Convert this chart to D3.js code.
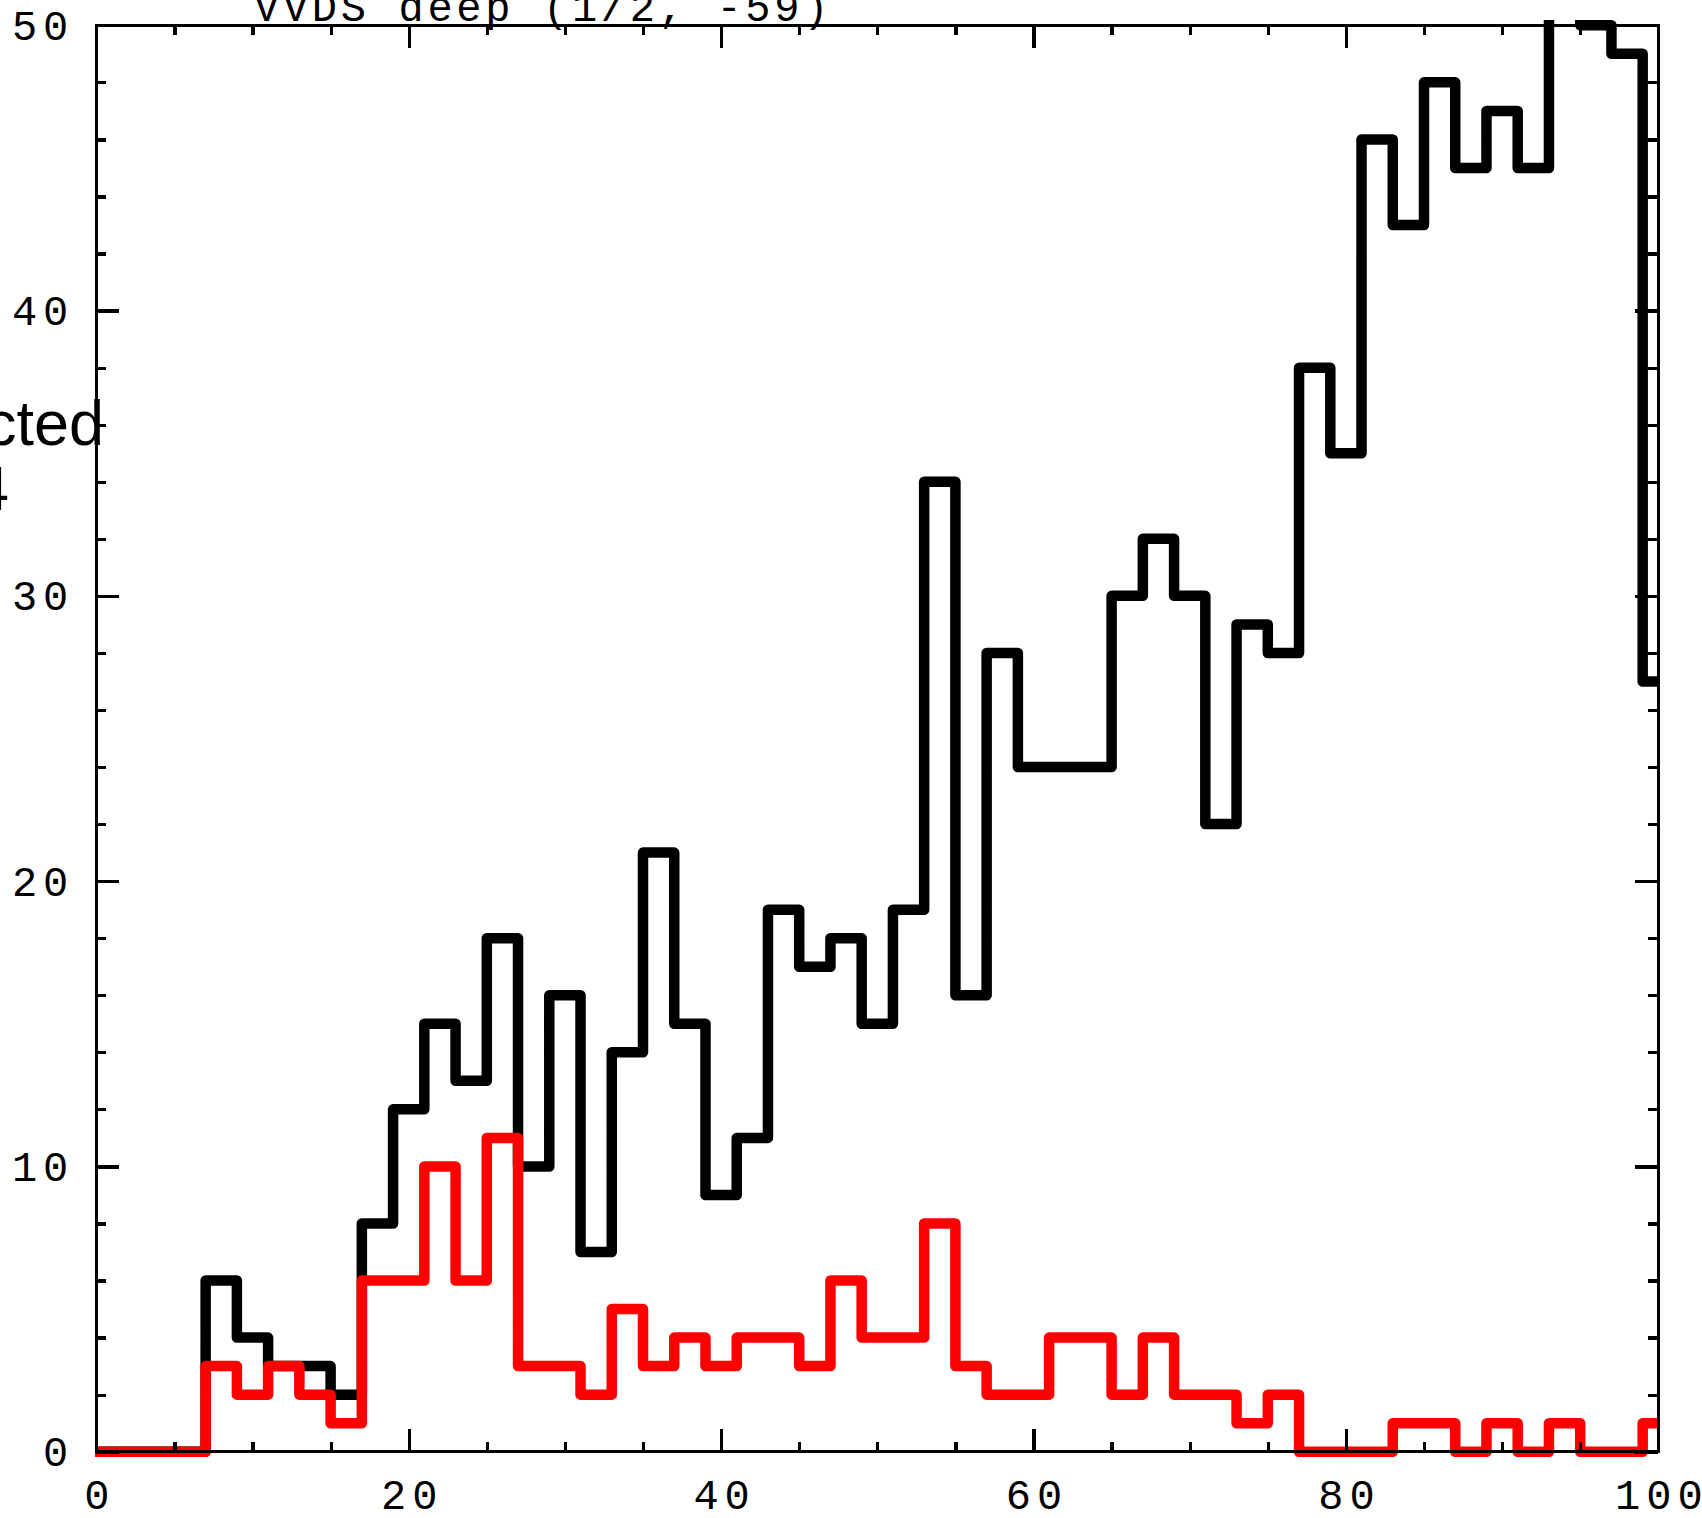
<!DOCTYPE html>
<html>
<head>
<meta charset="utf-8">
<script src="https://cdn.jsdelivr.net/npm/d3@7"></script>
<style>
  html, body { margin: 0; padding: 0; background: #fff; }
  svg { display: block; }
</style>
</head>
<body>
<script>
// Histogram bins: centre of each bin (bins are 2 units wide)
const binCentres = [0, 2, 4, 6, 8, 10, 12, 14, 16, 18, 20, 22, 24, 26, 28, 30, 32, 34, 36, 38,
  40, 42, 44, 46, 48, 50, 52, 54, 56, 58, 60, 62, 64, 66, 68, 70, 72, 74, 76, 78,
  80, 82, 84, 86, 88, 90, 92, 94, 96, 98, 100];
const binWidth = 2;

// All objects per bin (black)
const totalCounts = [0, 0, 0, 0, 6, 4, 3, 3, 2, 8, 12, 15, 13, 18, 10, 16, 7, 14, 21, 15,
  9, 11, 19, 17, 18, 15, 19, 34, 16, 28, 24, 24, 24, 30, 32, 30, 22, 29, 28, 38,
  35, 46, 43, 48, 45, 47, 45, 53, 50, 49, 27];

// Selected objects per bin (red)
const selectedCounts = [0, 0, 0, 0, 3, 2, 3, 2, 1, 6, 6, 10, 6, 11, 3, 3, 2, 5, 3, 4,
  3, 4, 4, 3, 6, 4, 4, 8, 3, 2, 2, 4, 4, 2, 4, 2, 2, 1, 2, 0,
  0, 0, 1, 1, 0, 1, 0, 1, 0, 0, 1];

// Axis ticks
const xMajorTicks = [0, 20, 40, 60, 80, 100];
const xMinorTicks = [5, 10, 15, 25, 30, 35, 45, 50, 55, 65, 70, 75, 85, 90, 95];
const yMajorTicks = [0, 10, 20, 30, 40, 50];
const yMinorTicks = [2, 4, 6, 8, 12, 14, 16, 18, 22, 24, 26, 28, 32, 34, 36, 38, 42, 44, 46, 48];

const titleText = "VVDS deep (1/2, -59)";
const yLabelLines = ["Number selected", "per 0.04"];

// ---- layout ----
const W = 1702, H = 1518;
const plot = { left: 96.3, right: 1658.3, top: 25.3, bottom: 1451.7 };
const monoFont = "'Liberation Mono', 'DejaVu Sans Mono', monospace";
const lineWidth = 10.5;

const svg = d3.select("body").append("svg")
  .attr("width", W).attr("height", H)
  .attr("viewBox", `0 0 ${W} ${H}`);

const x = d3.scaleLinear().domain([0, 100]).range([plot.left, plot.right]);
const y = d3.scaleLinear().domain([0, 50]).range([plot.bottom, plot.top]);

// clip histogram lines to the frame horizontally; leave room for stroke width vertically
svg.append("defs").append("clipPath").attr("id", "plot-clip")
  .append("rect")
  .attr("x", x(0) - 1.3)
  .attr("y", plot.top - lineWidth / 2)
  .attr("width", x(100) - x(0) + 2.6)
  .attr("height", plot.bottom - plot.top + lineWidth);

function stepPoints(counts) {
  return binCentres.flatMap((c, i) => [
    [c - binWidth / 2, counts[i]],
    [c + binWidth / 2, counts[i]]
  ]);
}

const stepLine = d3.line().x(d => x(d[0])).y(d => y(d[1]));

const hist = svg.append("g").attr("clip-path", "url(#plot-clip)");
hist.append("path")
  .attr("d", stepLine(stepPoints(totalCounts)))
  .attr("fill", "none").attr("stroke", "#000")
  .attr("stroke-width", lineWidth)
  .attr("stroke-linejoin", "round").attr("stroke-linecap", "butt");
hist.append("path")
  .attr("d", stepLine(stepPoints(selectedCounts)))
  .attr("fill", "none").attr("stroke", "#ff0000")
  .attr("stroke-width", lineWidth)
  .attr("stroke-linejoin", "round").attr("stroke-linecap", "butt");

// ---- axes ----
const majorLen = 23, minorLen = 10;

function styleAxis(g) {
  g.select(".domain").remove();
  g.selectAll("line").attr("stroke", "#000").attr("stroke-width", 3.2)
    .attr("shape-rendering", "crispEdges");
  g.attr("font-family", monoFont).attr("font-size", 42);
  g.selectAll("text").attr("fill", "#000").attr("letter-spacing", 6);
}

// bottom
svg.append("g").attr("transform", `translate(0,${plot.bottom})`)
  .call(d3.axisBottom(x).tickValues(xMajorTicks).tickFormat(d3.format("d"))
    .tickSizeInner(-majorLen).tickSizeOuter(0).tickPadding(27))
  .call(styleAxis)
  .call(g => g.selectAll("text").attr("dx", 3));
svg.append("g").attr("transform", `translate(0,${plot.bottom})`)
  .call(d3.axisBottom(x).tickValues(xMinorTicks).tickFormat("")
    .tickSizeInner(-minorLen).tickSizeOuter(0))
  .call(styleAxis);

// top
svg.append("g").attr("transform", `translate(0,${plot.top})`)
  .call(d3.axisTop(x).tickValues(xMajorTicks).tickFormat("")
    .tickSizeInner(-majorLen).tickSizeOuter(0))
  .call(styleAxis);
svg.append("g").attr("transform", `translate(0,${plot.top})`)
  .call(d3.axisTop(x).tickValues(xMinorTicks).tickFormat("")
    .tickSizeInner(-minorLen).tickSizeOuter(0))
  .call(styleAxis);

// left
svg.append("g").attr("transform", `translate(${plot.left},0)`)
  .call(d3.axisLeft(y).tickValues(yMajorTicks).tickFormat(d3.format("d"))
    .tickSizeInner(-majorLen).tickSizeOuter(0).tickPadding(22))
  .call(styleAxis)
  .call(g => g.selectAll("text").attr("dy", "0.33em"));
svg.append("g").attr("transform", `translate(${plot.left},0)`)
  .call(d3.axisLeft(y).tickValues(yMinorTicks).tickFormat("")
    .tickSizeInner(-minorLen).tickSizeOuter(0))
  .call(styleAxis);

// right
svg.append("g").attr("transform", `translate(${plot.right},0)`)
  .call(d3.axisRight(y).tickValues(yMajorTicks).tickFormat("")
    .tickSizeInner(-majorLen).tickSizeOuter(0))
  .call(styleAxis);
svg.append("g").attr("transform", `translate(${plot.right},0)`)
  .call(d3.axisRight(y).tickValues(yMinorTicks).tickFormat("")
    .tickSizeInner(-minorLen).tickSizeOuter(0))
  .call(styleAxis);

// frame
svg.append("rect")
  .attr("x", plot.left).attr("y", plot.top)
  .attr("width", plot.right - plot.left).attr("height", plot.bottom - plot.top)
  .attr("fill", "none").attr("stroke", "#000").attr("stroke-width", 3)
  .attr("shape-rendering", "crispEdges");

// title
svg.append("text")
  .attr("x", 254).attr("y", 21)
  .attr("font-family", monoFont).attr("font-size", 42)
  .attr("letter-spacing", 3.7)
  .attr("fill", "#000")
  .text(titleText);

// y-axis label (two lines)
const yLabel = svg.append("text")
  .attr("font-family", "'Liberation Sans', Arial, sans-serif")
  .attr("font-size", 63).attr("fill", "#000")
  .attr("text-anchor", "end");
yLabel.append("tspan").attr("x", 104).attr("y", 445).text(yLabelLines[0]);
yLabel.append("tspan").attr("x", 9).attr("y", 510).text(yLabelLines[1]);
</script>
</body>
</html>
